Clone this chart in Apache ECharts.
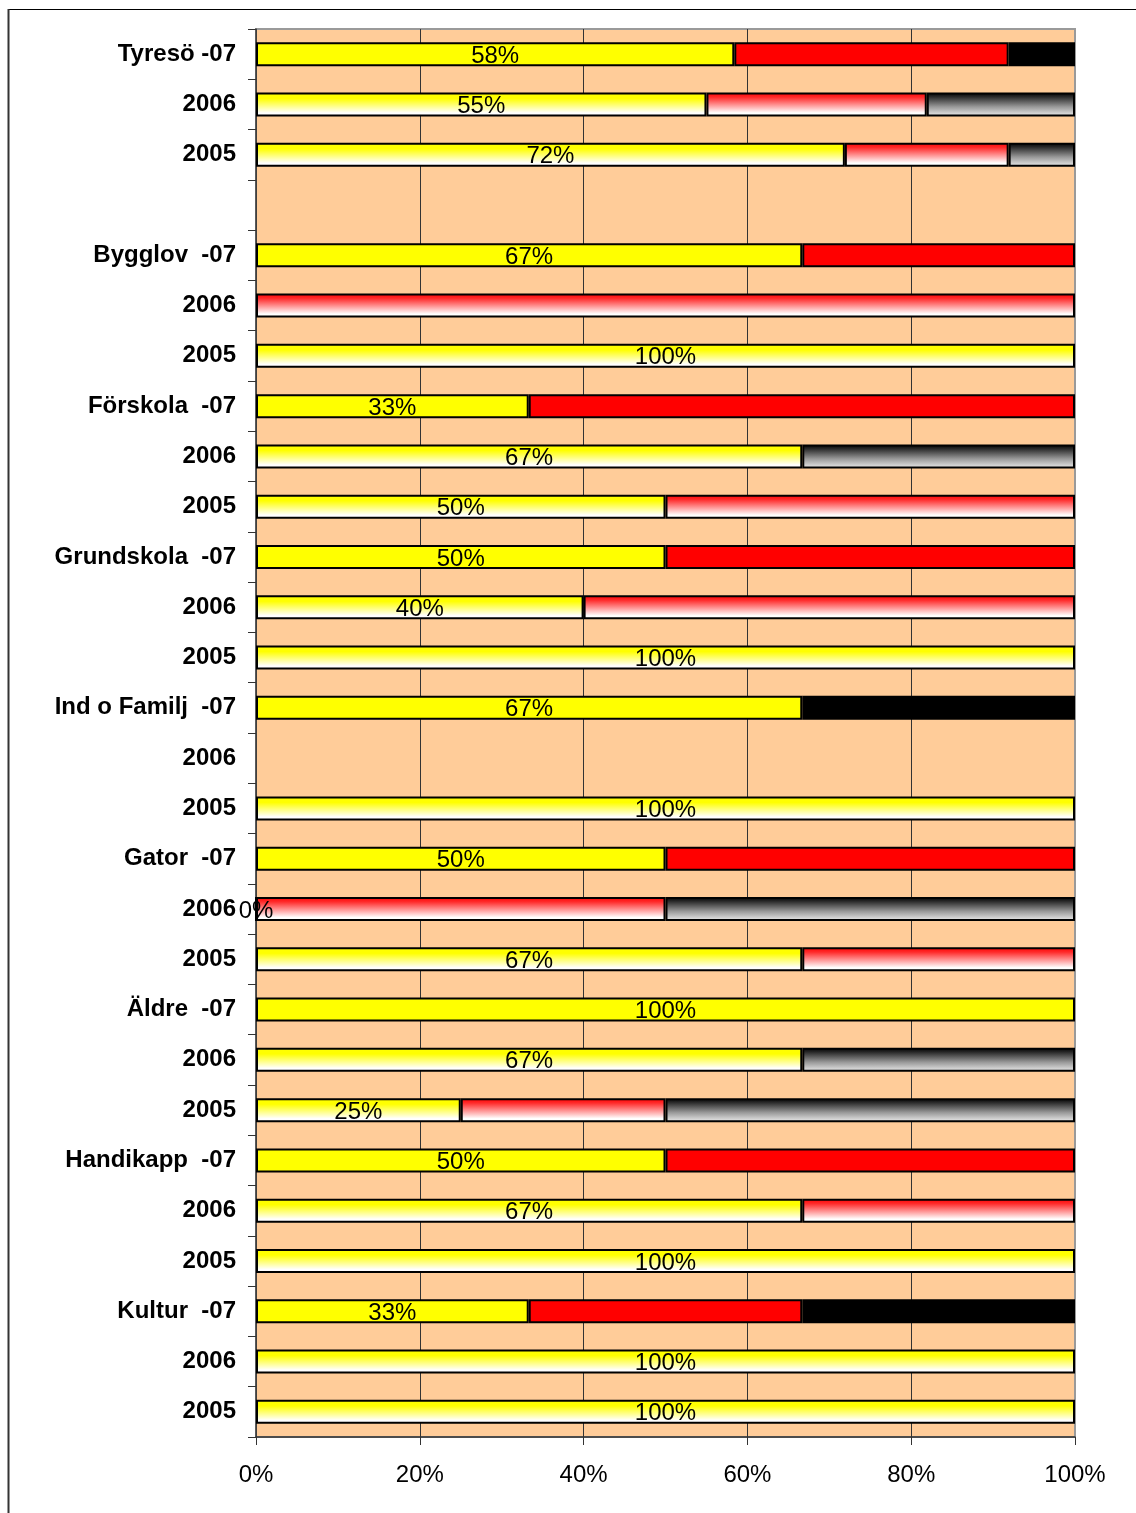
<!DOCTYPE html>
<html>
<head>
<meta charset="utf-8">
<script src="https://cdn.jsdelivr.net/npm/echarts@6/dist/echarts.min.js"></script>
<style>
html,body{margin:0;padding:0;background:#fff;}
#chart{width:1136px;height:1513px;}
</style>
</head>
<body>
<div id="chart"></div>
<script>
const categories = ['Tyresö -07','2006','2005','','Bygglov  -07','2006','2005','Förskola  -07','2006','2005','Grundskola  -07','2006','2005','Ind o Familj  -07','2006','2005','Gator  -07','2006','2005','Äldre  -07','2006','2005','Handikapp  -07','2006','2005','Kultur  -07','2006','2005'];
const yellowValues = [58.4,55,71.9,null,66.7,null,100,33.3,66.7,50,50,40,100,66.7,null,100,50,0,66.7,100,66.7,25,50,66.7,100,33.3,100,100];
const redValues = [33.5,26.9,20,null,33.3,100,null,66.7,null,50,50,60,null,null,null,null,50,50,33.3,null,null,25,50,33.3,null,33.4,null,null];
const blackValues = [8.1,18.1,8.1,null,null,null,null,null,33.3,null,null,null,null,33.3,null,null,null,50,null,null,33.3,50,null,null,null,33.3,null,null];
const xTicks = [0,20,40,60,80,100];

const FONT = '"Liberation Sans", Arial, sans-serif';
function grad(stops){
  return {type:'linear',x:0,y:0,x2:0,y2:1,colorStops:stops.map(s=>({offset:s[0],color:s[1]}))};
}
const styles = {
  yellow:{solid:'#ffff00', grad:grad([[0,'#ffff00'],[0.25,'#ffff00'],[0.85,'#ffffff'],[1,'#ffffff']])},
  red:{solid:'#ff0000', grad:grad([[0,'#ff0000'],[0.2,'#ff2a2a'],[0.85,'#ffffff'],[1,'#ffffff']])},
  black:{solid:'#000000', grad:grad([[0,'#000000'],[0.15,'#222222'],[0.6,'#999999'],[1,'#eeeeee']])}
};
function build(values, key){
  return values.map((v,i)=>{
    const cur = categories[i].indexOf('-07') >= 0;
    return {value: v, itemStyle:{color: cur ? styles[key].solid : styles[key].grad}};
  });
}
const chart = echarts.init(document.getElementById('chart'), null, {renderer:'canvas'});
const barCommon = {
  type:'bar', stack:'total', barWidth:24,
  itemStyle:{borderColor:'#000', borderWidth:2},
  emphasis:{disabled:true}, animation:false
};
chart.setOption({
  backgroundColor:'#ffffff',
  animation:false,
  textStyle:{fontFamily:FONT},
  graphic:[
    {type:'line', shape:{x1:8,y1:9.5,x2:1136,y2:9.5}, style:{stroke:'#000',lineWidth:1.2}},
    {type:'line', shape:{x1:8.5,y1:9,x2:8.5,y2:1513}, style:{stroke:'#333',lineWidth:2}}
  ],
  grid:{left:256, right:61, top:29, bottom:76, show:true, backgroundColor:'#ffcc99', borderColor:'#9a9a9a', borderWidth:2},
  xAxis:{
    type:'value', min:0, max:100, interval:20,
    axisLine:{show:true, lineStyle:{color:'#333', width:1.5}},
    axisTick:{show:true, length:8, lineStyle:{color:'#333'}},
    axisLabel:{formatter:v=>v+'%', fontSize:24, color:'#000', margin:26, fontFamily:FONT},
    splitLine:{show:true, showMaxLine:false, lineStyle:{color:'#333', width:1}}
  },
  yAxis:{
    type:'category', inverse:true, data:categories,
    axisLine:{show:true, lineStyle:{color:'#444', width:1.5}},
    axisTick:{show:true, length:8, lineStyle:{color:'#333'}},
    axisLabel:{fontSize:24, fontWeight:'bold', color:'#000', margin:20, fontFamily:FONT, interval:0, padding:[8,0,0,0]},
    splitLine:{show:false}
  },
  series:[
    Object.assign({}, barCommon, {name:'yellow', data:build(yellowValues,'yellow'),
      label:{show:true, position:'inside', color:'#000', fontSize:24, fontFamily:FONT, textBorderWidth:0, offset:[0,2],
        formatter:p=> (p.value===null||p.value===undefined) ? '' : Math.round(p.value)+'%'}}),
    Object.assign({}, barCommon, {name:'red', data:build(redValues,'red')}),
    Object.assign({}, barCommon, {name:'black', data:build(blackValues,'black')})
  ]
});
</script>
</body>
</html>
